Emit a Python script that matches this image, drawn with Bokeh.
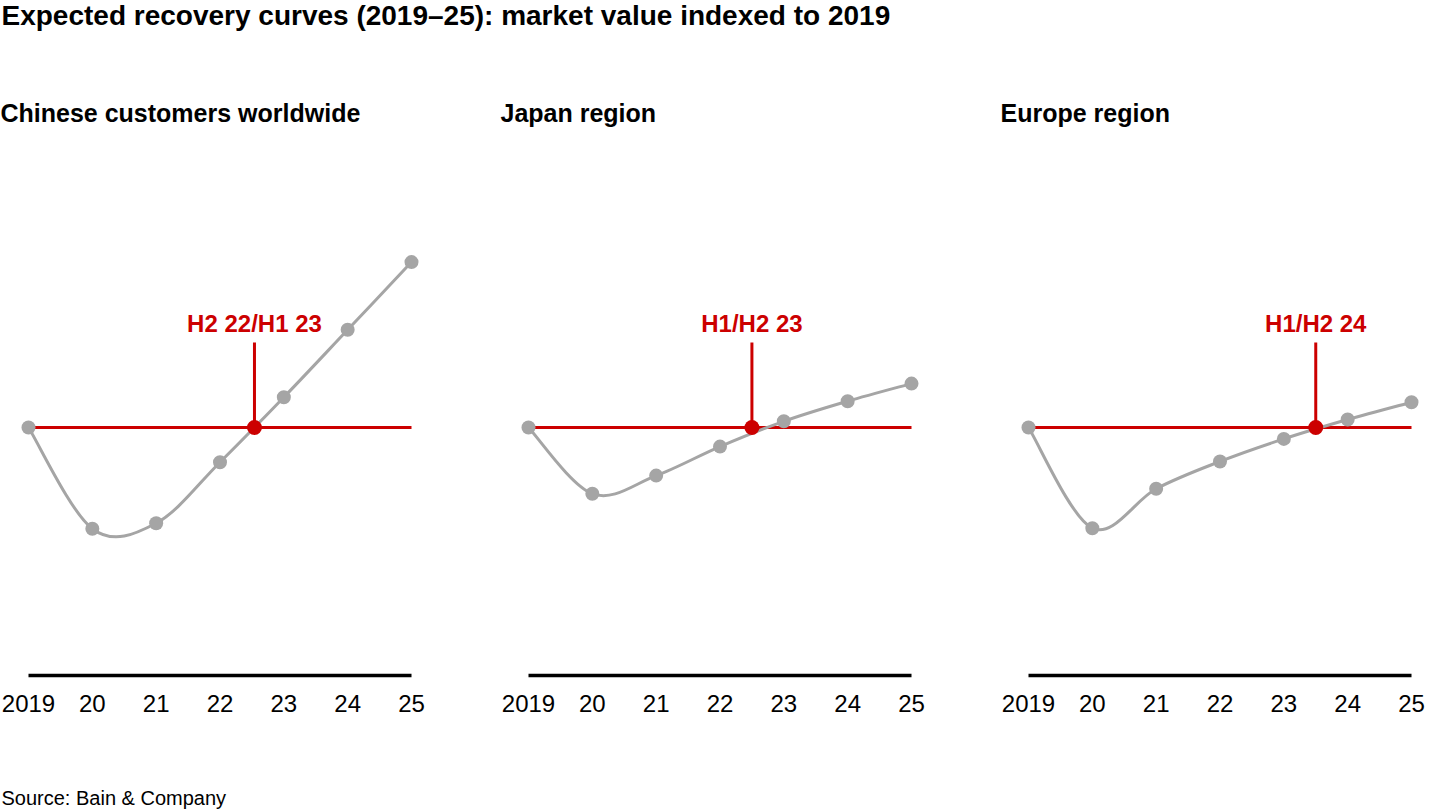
import numpy as np
from bokeh.plotting import figure
from bokeh.models import Range1d, Label
from bokeh.embed import file_html
from bokeh.resources import INLINE
from bokeh.core.properties import value

# ---------------- data ----------------
years = [2019, 2020, 2021, 2022, 2023, 2024, 2025]
tick_labels = ["2019", "20", "21", "22", "23", "24", "25"]
panel_titles = ["Chinese customers worldwide", "Japan region", "Europe region"]
china = [100, 59.2, 61.4, 86.0, 112.2, 139.4, 166.7]
japan = [100, 73.3, 80.6, 92.3, 102.5, 110.6, 117.7]
europe = [100, 59.4, 75.3, 86.3, 95.4, 103.2, 110.2]
cross_years = [2022.54, 2022.5, 2023.5]
cross_labels = ["H2 22/H1 23", "H1/H2 23", "H1/H2 24"]
index_level = 100
chart_title = "Expected recovery curves (2019\u201325): market value indexed to 2019"
source_note = "Source: Bain & Company"

series = [china, japan, europe]

# ---------------- layout / style ----------------
W, H = 1440, 810
BASE_PX = 675            # page y of the baseline (value 0)
PPU = 2.48               # pixels per index unit
PPY = 383 / 6            # pixels per year
panel_left = [28, 528, 1028]
FONT = "Liberation Sans"
RED = "#CC0000"
GRAY = "#A5A5A5"


def v_at(page_y):
    return (BASE_PX - page_y) / PPU


p = figure(width=W, height=H, output_backend="svg", toolbar_location=None,
           x_range=Range1d(0, W),
           y_range=Range1d(-(H - BASE_PX) / PPU, BASE_PX / PPU),
           x_axis_location=None, y_axis_location=None,
           min_border=0)
p.grid.visible = False
p.outline_line_color = None
p.background_fill_color = "white"
p.border_fill_color = "white"

for i, (vals, left) in enumerate(zip(series, panel_left)):
    rn = f"panel{i}"
    start = 2019 - left / PPY
    p.extra_x_ranges[rn] = Range1d(start, start + W / PPY)

    # baseline axis line
    p.segment(x0=[years[0]], y0=[0], x1=[years[-1]], y1=[0],
              line_color="black", line_width=3.5, x_range_name=rn)
    # tick labels
    p.text(x=years, y=[v_at(703)] * len(years), text=tick_labels,
           text_font=value(FONT), text_font_size="24px", text_color="black",
           text_align="center", text_baseline="middle", x_range_name=rn)
    # index line
    p.segment(x0=[years[0]], y0=[index_level], x1=[years[-1]], y1=[index_level],
              line_color=RED, line_width=3, x_range_name=rn)

    # smooth curve (Catmull-Rom as cubic Bezier segments)
    x = np.array(years, float)
    y = np.array(vals, float)
    xp = np.concatenate([[x[0]], x, [x[-1]]])
    yp = np.concatenate([[y[0]], y, [y[-1]]])
    n = len(x) - 1
    p.bezier(x0=x[:-1], y0=y[:-1], x1=x[1:], y1=y[1:],
             cx0=x[:-1] + (xp[2:n + 2] - xp[0:n]) / 6,
             cy0=y[:-1] + (yp[2:n + 2] - yp[0:n]) / 6,
             cx1=x[1:] - (xp[3:n + 3] - xp[1:n + 1]) / 6,
             cy1=y[1:] - (yp[3:n + 3] - yp[1:n + 1]) / 6,
             line_color=GRAY, line_width=3, x_range_name=rn)
    p.scatter(x=years, y=vals, size=14, fill_color=GRAY, line_color=None,
              x_range_name=rn)

    # crossing marker
    cx = cross_years[i]
    p.segment(x0=[cx], y0=[index_level], x1=[cx], y1=[v_at(342)],
              line_color=RED, line_width=3, x_range_name=rn)
    p.scatter(x=[cx], y=[index_level], size=15, fill_color=RED, line_color=None,
              x_range_name=rn)
    p.text(x=[cx], y=[v_at(323)], text=[cross_labels[i]],
           text_font=value(FONT), text_font_size="24px", text_font_style="bold",
           text_color=RED, text_align="center", text_baseline="middle",
           x_range_name=rn)

    # panel title
    p.add_layout(Label(x=left - 28, y=v_at(112), text=panel_titles[i],
                       text_font=FONT, text_font_size="25px", text_font_style="bold",
                       text_color="black", text_align="left", text_baseline="middle"))

p.add_layout(Label(x=1, y=v_at(15), text=chart_title, text_font=FONT,
                   text_font_size="28px", text_font_style="bold", text_color="black",
                   text_align="left", text_baseline="middle"))
p.add_layout(Label(x=1, y=v_at(797), text=source_note, text_font=FONT,
                   text_font_size="20px", text_color="black",
                   text_align="left", text_baseline="middle"))

open("out.html", "w").write(file_html(p, INLINE))
